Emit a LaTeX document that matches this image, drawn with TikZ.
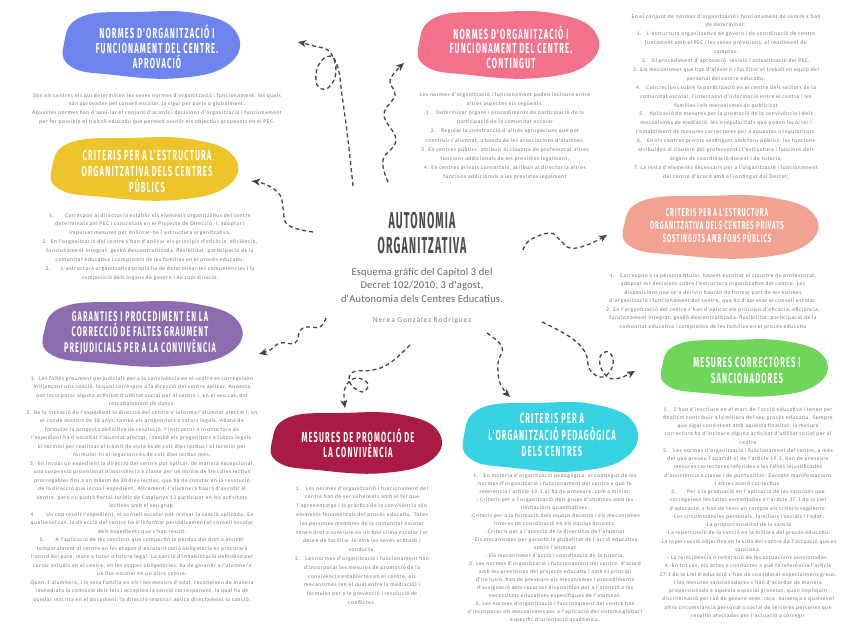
\documentclass[tikz,border=0pt]{standalone}
\usepackage{fontspec}
\usetikzlibrary{arrows.meta}
\newfontfamily\headfont[FakeStretch=0.52,LetterSpace=8]{Fira Sans}
\newfontfamily\titlefont[FakeStretch=0.46,LetterSpace=5]{Fira Sans}
\newfontfamily\bodyfont[LetterSpace=10]{Carlito}
\newfontfamily\subfont[LetterSpace=2]{Carlito}
\newfontfamily\authfont[LetterSpace=12]{Carlito}
\definecolor{cblue}{HTML}{6E85F0}
\definecolor{cpink}{HTML}{F3728B}
\definecolor{cyellow}{HTML}{EDC42A}
\definecolor{csalmon}{HTML}{F2A291}
\definecolor{cpurple}{HTML}{8C6BAE}
\definecolor{ccrimson}{HTML}{A91A44}
\definecolor{ccyan}{HTML}{38D2E3}
\definecolor{cgreen}{HTML}{6FD55B}
\definecolor{bodygray}{HTML}{767676}
\definecolor{arrowgray}{HTML}{454545}
\definecolor{titlegray}{HTML}{4A4A4A}
\newcommand{\myblob}[5]{%
  \fill[#1] plot[smooth cycle, tension=0.75] coordinates {
   ({#2-#4},{#3-0.05*#5}) ({#2-0.8*#4},{#3-0.85*#5}) ({#2-0.15*#4},{#3-#5})
   ({#2+0.55*#4},{#3-0.95*#5}) ({#2+#4},{#3-0.4*#5}) ({#2+0.93*#4},{#3+0.55*#5})
   ({#2+0.35*#4},{#3+#5}) ({#2-0.45*#4},{#3+0.9*#5}) ({#2-0.92*#4},{#3+0.65*#5})};}
\tikzset{
  head/.style={text=white, align=center, inner sep=0pt, font={\headfont\bfseries\fontsize{14.5}{15}\selectfont}},
  body/.style={text=bodygray, align=center, inner sep=0pt, anchor=north},
  arr/.style={draw=arrowgray, line width=1.3pt, dash pattern=on 4pt off 3pt,
    -{Stealth[length=8pt,width=7pt,inset=2pt]}},
}
\newcommand{\bfs}[1]{\bodyfont\fontsize{5.5}{#1}\selectfont}
\begin{document}
\begin{tikzpicture}[x=1pt,y=-1pt]
\useasboundingbox (0,0) rectangle (848,636);
\fill[white] (0,0) rectangle (848,636);

% ---------- blobs ----------
\myblob{cblue}{150}{45}{86}{33}
\myblob{cpink}{507}{45}{88}{33}
\myblob{cyellow}{143}{169}{91}{31}
\myblob{csalmon}{719}{227}{95}{31}
\myblob{cpurple}{141}{334}{97}{32}
\myblob{ccrimson}{355}{443}{83}{30}
\myblob{ccyan}{549}{437}{85}{34}
\myblob{cgreen}{743}{368}{81}{28}

% ---------- headings ----------
\node[head] (hblue) at (157,47) {NORMES D'ORGANITZACIÓ I\\FUNCIONAMENT DEL CENTRE.\\APROVACIÓ};
\node[head, font={\headfont\bfseries\fontsize{14.5}{14.5}\selectfont}] (hpink) at (511,47) {NORMES D'ORGANITZACIÓ I\\FUNCIONAMENT DEL CENTRE.\\CONTINGUT};
\node[head, font={\headfont\bfseries\fontsize{14.5}{16}\selectfont}] (hyellow) at (147,171) {CRITERIS PER A L'ESTRUCTURA\\ORGANITZATIVA DELS CENTRES\\PÚBLICS};
\node[head, font={\headfont\bfseries\fontsize{11.5}{13}\selectfont}] (hsalmon) at (717,226) {CRITERIS PER A L'ESTRUCTURA\\ORGANITZATIVA DELS CENTRES PRIVATS\\SOSTINGUTS AMB FONS PÚBLICS};
\node[head, font={\headfont\bfseries\fontsize{14}{15.5}\selectfont}] (hpurple) at (140,333) {GARANTIES I PROCEDIMENT EN LA\\CORRECCIÓ DE FALTES GRAUMENT\\PREJUDICIALS PER A LA CONVIVÈNCIA};
\node[head] (hcrimson) at (358,443.5) {MESURES DE PROMOCIÓ DE\\LA CONVIVÈNCIA};
\node[head, font={\headfont\bfseries\fontsize{14.5}{16.5}\selectfont}] (hcyan) at (552,435) {CRITERIS PER A\\L'ORGANITZACIÓ PEDAGÒGICA\\DELS CENTRES};
\node[head, font={\headfont\bfseries\fontsize{14.5}{16}\selectfont}] (hgreen) at (747,370) {MESURES CORRECTORES I\\SANCIONADORES};

% ---------- title ----------
\node[text=titlegray, align=center, inner sep=0pt, font={\titlefont\bfseries\fontsize{23}{24.5}\selectfont}] (title) at (422,233) {AUTONOMIA\\ORGANITZATIVA};
\node[text=titlegray!85, align=center, inner sep=0pt, anchor=north, font={\subfont\fontsize{10.5}{13.5}\selectfont}] (sub) at (422,268) {Esquema gràfic del Capítol 3 del\\Decret 102/2010, 3 d'agost,\\d'Autonomia dels Centres Educatius.};
\node[text=gray, inner sep=0pt, font={\authfont\fontsize{7.5}{9}\selectfont}] (author) at (422,321) {Nerea González Rodríguez};

% ---------- body texts ----------
\node[body, font={\bfs{8.7}}] (tblue) at (157,93) {Són els centres els qui determinen les seves normes d'organització i funcionament, les quals\\són aprovades pel consell escolar, ja sigui per parts o globalment.\\Aquestes normes han d'apel·lar el conjunt d'acords i decisions d'organització i funcionament\\per fer possible el treball educatiu que permeti assolir els objectius proposats en el PEC.};

\node[body, font={\bfs{9.2}}] (tpink) at (505,92) {Les normes d'organització i funcionament poden incloure entre\\altres aspectes els següents:\\1.\quad Determinar òrgans i procediments de participació de la\\participació de la comunitat escolar\\2.\quad Regular la construcció d'altres agrupacions que pot\\construir l'alumnat, a banda de les associacions d'alumnes.\\3. En centres públics: atribuir al claustre de professorat altres\\funcions addicionals de les previstes legalment.\\4. En centres privats concertats, atribuir al director/a altres\\funcions addicionals a les previstes legalment};

\node[body, font={\bfs{8.9}}] (ttopr) at (726,14) {En el conjunt de normes d'organització i funcionament de centre s'han\\de determinar:\\1.\quad L'estructura organitzativa de govern i de coordinació de centre\\juntament amb el PEC i les seves previsions, el rendiment de\\comptes.\\2.\quad El procediment d'aprovació, revisió i actualització del PEC.\\3. Els mecanismes que han d'afavorir i facilitar el treball en equip del\\personal del centre educatiu.\\4.\quad Concrecions sobre la participació en el centre dels sectors de la\\comunitat escolar, l'intercanvi d'informació entre el centre i les\\famílies i els mecanismes de publicitat\\5.\quad Aplicació de mesures per la promoció de la convivència i dels\\mecanismes de mediació, les irregularitats que poden incórrer i\\l'establiment de mesures correctores per a aquestes irregularitats.\\6.\quad En els centres privats sostinguts amb fons públics, les funcions\\atribuïdes al claustre del professorat i l'estructura i funcions dels\\òrgans de coordinació docent i de tutoria.\\7.\ La resta d'elements necessaris per a l'organització i funcionament\\del centre d'acord amb el contingut del Decret.};

\node[body, font={\bfs{8.9}}] (tyellow) at (150,213) {1.\qquad Correspon al director/a establir els elements organitzatius del centre\\determinats pel PEC i concretats en el Projecte de Direcció, i, adoptar i\\impulsar mesures per millorar-ne l'estructura organitzativa.\\2.\ \ En l'organització del centre s'han d'aplicar els principis d'eficàcia, eficiència,\\funcionament integrat, gestió descentralitzada, flexibilitat, participació de la\\comunitat educativa i compromís de les famílies en el procés educatiu.\\3.\qquad L'estructura organitzativa pròpia ha de determinar les competències i la\\composició dels òrgans de govern i de coordinació.};

\node[body, font={\bfs{8.5}}] (tsalmon) at (713,273) {1.\quad Correspon a la persona titular, havent escoltat el claustre de professorat,\\adoptar les decisions sobre l'estructura organitzativa del centre. Les\\disposicions que se'n derivin hauran de formar part de les normes\\d'organització i funcionament del centre, que ha d'aprovar el consell escolar.\\2. En l'organització del centre s'han d'aplicar els principis d'eficàcia, eficiència,\\funcionament integrat, gestió descentralitzada, flexibilitat, participació de la\\comunitat educativa i compromís de les famílies en el procés educatiu};

\node[body, font={\bfs{8.5}}] (tpurple) at (142,376) {1.\ \ Les faltes greument perjudicials per a la convivència en el centre es corregeixen\\mitjançant una sanció, la qual correspon a la direcció del centre aplicar. Aquesta\\pot incorporar alguna activitat d'utilitat social per al centre i, en el seu cas, del\\rescabalament de danys.\\2. De la incoació de l'expedient la direcció del centre n'informa l'alumnat afectat i, en\\el cas de menors de 18 anys, també els progenitors o tutors legals. Abans de\\formular la proposta definitiva de resolució, l'instructor o instructora de\\l'expedient ha d'escoltar l'alumnat afectat, i també els progenitors o tutors legals.\\El termini per realitzar el tràmit de vista és de cinc dies lectius i el termini per\\formular-hi al·legacions és de cinc dies lectius més.\\3.\ \ En incoar un expedient la direcció del centre pot aplicar, de manera excepcional,\\una suspensió provisional d'assistència a classe per un mínim de tres dies lectius\\prorrogables fins a un màxim de 20 dies lectius, que ha de constar en la resolució\\de la direcció que incoa l'expedient. Altrament, l'alumne/a haurà d'assistir al\\centre, però no podrà Portal Jurídic de Catalunya 13 participar en les activitats\\lectives amb el seu grup.\\4.\qquad Un cop resolt l'expedient, el consell escolar pot revisar la sanció aplicada. En\\qualsevol cas, la direcció del centre ha d'informar periòdicament el consell escolar\\dels expedients que s'han resolt.\\5.\qquad A l'aplicació de les sancions que comportin la pèrdua del dret a assistir\\temporalment al centre en les etapes d'escolarització obligatòria es procurarà\\l'acord del pare, mare o tutor o tutora legal. La sanció d'inhabilitació definitiva per\\cursar estudis en el centre, en les etapes obligatòries, ha de garantir a l'alumne/a\\un lloc escolar en un altre centre.\\Quan, l'alumne/a, i la seva família en els i les menors d'edat, reconeixen de manera\\immediata la comissió dels fets i accepten la sanció corresponent, la qual ha de\\quedar inscrita en el document, la direcció imposa i aplica directament la sanció.};

\node[body, font={\bfs{8.8}}] (tcrimson) at (362,486) {1.\quad Les normes d'organització i funcionament del\\centre han de ser coherents amb el fet que\\l'aprenentatge i la pràctica de la convivència són\\elements fonamentals del procés educatiu. Totes\\les persones membres de la comunitat escolar\\tenen dret a conviure en un bon clima escolar i el\\deure de facilitar-lo amb les seves actituds i\\conducta.\\2.\quad Les normes d'organització i funcionament han\\d'incorporar les mesures de promoció de la\\convivència establertes en el centre, els\\mecanismes (en el qual entre la mediació) i\\fórmules per a la prevenció i resolució de\\conflictes.};

\node[body, font={\bfs{8.0}}] (tcyan) at (555,473) {1.\quad En matèria d'organització pedagògica, el contingut de les\\normes d'organització i funcionament del centre a què fa\\referència l'article 19.1.a) ha de preveure, com a mínim:\\- Criteris per a l'organització dels grups d'alumnes amb les\\limitacions quantitatives.\\-Criteris per a la formació dels equips docents i els mecanismes\\interns de coordinació en els equips docents.\\-Criteris per a l'atenció de la diversitat de l'alumnat\\-Els mecanismes per garantir la globalitat de l'acció educativa\\sobre l'alumnat\\- Els mecanismes d'acció i coordinació de la tutoria.\\2. Les normes d'organització i funcionament del centre, d'acord\\amb les previsions del projecte educatiu i amb el principi\\d'inclusió, han de preveure els mecanismes i procediments\\d'assignació dels recursos disponibles per a l'atenció a les\\necessitats educatives específiques de l'alumnat.\\3. Les normes d'organització i funcionament del centre han\\d'incorporar els mecanismes per a l'aplicació del sistema global i\\específic d'orientació acadèmica.};

\node[body, font={\bfs{8.25}}] (tgreen) at (748,407) {1.\quad S'han d'inscriure en el marc de l'acció educativa i tenen per\\finalitat contribuir a la millora del seu procés educatiu. Sempre\\que sigui consistent amb aquesta finalitat, la mesura\\correctora ha d'incloure alguna activitat d'utilitat social per al\\centre\\2.\quad Les normes d'organització i funcionament del centre, a més\\del que preveu l'apartat e) de l'article 19.1, han de preveure\\mesures correctores referides a les faltes injustificades\\d'assistència a classe i de puntualitat. Excepte manifestacions\\i altres acord col·lectius.\\3.\qquad Per a la graduació en l'aplicació de les sancions que\\corregeixen les faltes esmentades a l'article 37.1 de la Llei\\d'educació, s'han de tenir en compte els criteris següents:\\-Les circumstàncies personals, familiars i socials i l'edat.\\-La proporcionalitat de la sanció\\-La repercussió de la sanció en la millora del procés educatiu.\\-La repercussió objectiva en la vida del centre de l'actuació que es\\sanciona.\\- La reincidència o reiteració de les actuacions sancionades.\\4. En tot cas, els actes o conductes a què fa referència l'article\\37.1 de la Llei d'educació s'han de considerar especialment greus,\\i les mesures sancionadores s'han d'acordar de manera\\proporcionada a aquesta especial gravetat, quan impliquin\\discriminació per raó de gènere sexe, raça, naixença o qualsevol\\altra circumstància personal o social de terceres persones que\\resultin afectades per l'actuació a corregir};

% ---------- arrow end points ----------
\coordinate (a1s) at (353,186); \coordinate (a1e) at (298,42);
\coordinate (a2s) at (388,182); \coordinate (a2e) at (404,63);
\coordinate (a3s) at (313,232); \coordinate (a3e) at (252,181);
\coordinate (a4s) at (523,250); \coordinate (a4e) at (607,235);
\coordinate (a5s) at (542,322); \coordinate (a5e) at (635,371);
\coordinate (a6s) at (487,333); \coordinate (a6e) at (510,397);
\coordinate (a7s) at (410,345); \coordinate (a7e) at (345,408);
\coordinate (a8s) at (326,318); \coordinate (a8e) at (259,354);

% ---------- dashed arrows ----------
\draw[arr] plot[smooth, tension=0.7] coordinates {(a1s) (348,140) (342,95) (338,68) (330,56) (318,66) (317,85) (328,88) (336,72) (330,52) (314,46) (a1e)};
\draw[arr] plot[smooth, tension=0.7] coordinates {(a2s) (383,160) (396,140) (384,115) (395,95) (390,80) (a2e)};
\draw[arr] plot[smooth, tension=0.7] coordinates {(a3s) (288,225) (283,208) (280,195) (267,185) (a3e)};
\draw[arr] plot[smooth, tension=0.7] coordinates {(a4s) (530,240) (550,233) (560,240) (570,248) (587,245) (a4e)};
\draw[arr] plot[smooth, tension=0.7] coordinates {(a5s) (570,337) (585,352) (590,370) (603,377) (613,365) (609,352) (600,357) (603,372) (615,379) (a5e)};
\draw[arr] plot[smooth, tension=0.7] coordinates {(a6s) (502,347) (498,363) (500,383) (a6e)};
\draw[arr] plot[smooth, tension=0.7] coordinates {(a7s) (390,363) (373,370) (353,372) (350,383) (362,392) (368,384) (356,378) (345,388) (a7e)};
\draw[arr] plot[smooth, tension=0.7] coordinates {(a8s) (320,327) (307,327) (300,331) (295,343) (280,343) (270,350) (a8e)};
\end{tikzpicture}
\end{document}
